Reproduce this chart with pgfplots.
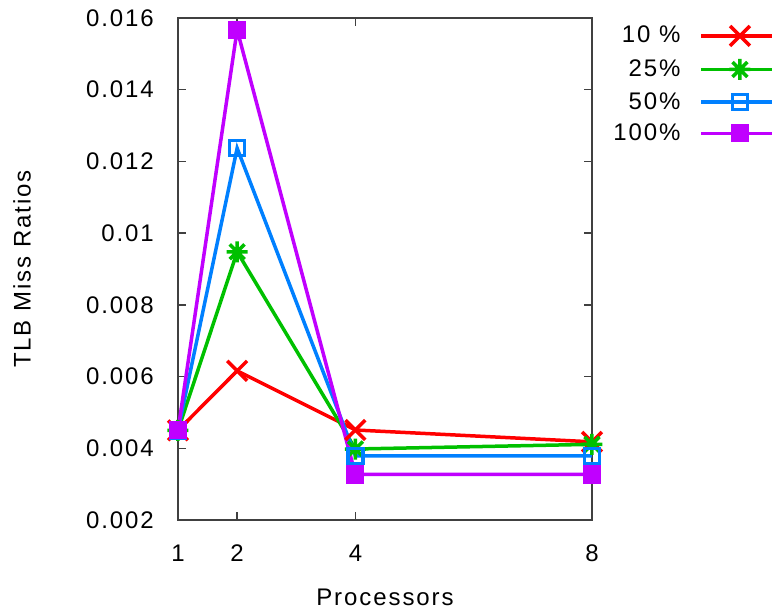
\documentclass[border=0pt]{standalone}
\usepackage{fontspec}
\setmainfont{Liberation Sans}[LetterSpace=8]
\usepackage{pgfplots}
\pgfplotsset{compat=1.18}
\definecolor{gpred}{RGB}{255,0,0}
\definecolor{gpgreen}{RGB}{0,192,0}
\definecolor{gpblue}{RGB}{0,128,255}
\definecolor{gppurple}{RGB}{192,0,255}
\pgfdeclareplotmark{gpstar}{%
  \pgfpathmoveto{\pgfqpoint{-\pgfplotmarksize}{0pt}}%
  \pgfpathlineto{\pgfqpoint{\pgfplotmarksize}{0pt}}%
  \pgfpathmoveto{\pgfqpoint{0pt}{-\pgfplotmarksize}}%
  \pgfpathlineto{\pgfqpoint{0pt}{\pgfplotmarksize}}%
  \pgfpathmoveto{\pgfqpoint{-.7071\pgfplotmarksize}{-.7071\pgfplotmarksize}}%
  \pgfpathlineto{\pgfqpoint{.7071\pgfplotmarksize}{.7071\pgfplotmarksize}}%
  \pgfpathmoveto{\pgfqpoint{-.7071\pgfplotmarksize}{.7071\pgfplotmarksize}}%
  \pgfpathlineto{\pgfqpoint{.7071\pgfplotmarksize}{-.7071\pgfplotmarksize}}%
  \pgfusepathqstroke}
\begin{document}
\fontsize{24}{28}\selectfont
\begin{tikzpicture}[font=\fontsize{24}{28}\selectfont]
\path[use as bounding box] (0pt,0pt) rectangle (774pt,611pt);
\begin{axis}[
  at={(178pt,91pt)}, anchor=south west,
  scale only axis, width=414pt, height=502pt,
  xmin=1, xmax=8, ymin=0.002, ymax=0.016,
  xtick={1,2,4,8},
  ytick={0.002,0.004,0.006,0.008,0.01,0.012,0.014,0.016},
  scaled y ticks=false,
  yticklabel style={/pgf/number format/fixed,/pgf/number format/precision=3,
    anchor=east, inner sep=0pt, xshift=-24pt},
  xticklabel style={anchor=center, inner sep=0pt, yshift=-33pt},
  /pgf/number format/assume math mode=true,
  tick align=inside, major tick length=8pt,
  axis line style={draw=black!75, line width=1.5pt},
  every tick/.style={black!75, line width=1.5pt},
  xlabel={Processors}, ylabel={TLB Miss Ratios},
  every axis x label/.style={at={(axis description cs:0.5,-0.1534)}, anchor=center, inner sep=0pt},
  every axis y label/.style={at={(axis description cs:-0.3768,0.5)}, rotate=90, anchor=center, inner sep=0pt},
  clip=false,
  legend plot pos=right,
  legend cell align=right,
  legend image code/.code={\draw[mark repeat=2,mark phase=2,#1] plot coordinates {(0pt,0pt) (38.7pt,0pt) (71pt,0pt)};},
  legend style={at={(axis description cs:1,1)}, anchor=north east, xshift=182pt, yshift=-8pt,
    draw=none, fill=none, inner sep=0pt, outer sep=0pt, column sep=19pt, row sep=13.2pt,
    nodes={inner sep=0pt, text height=16pt, text depth=2pt}},
  every axis plot/.append style={line width=3.5pt},
]
\addplot[gpred, mark=x, mark size=14pt] coordinates {(1,0.0045) (2,0.00616) (4,0.00451) (8,0.00418)};
\addlegendentry{10 \%}
\addplot[gpgreen, mark=gpstar, mark size=10.5pt] coordinates {(1,0.0045) (2,0.00948) (4,0.00398) (8,0.00411)};
\addlegendentry{25\%}
\addplot[gpblue, mark=square, mark size=7.5pt] coordinates {(1,0.0045) (2,0.01237) (4,0.00379) (8,0.00379)};
\addlegendentry{50\%}
\addplot[gppurple, mark=square*, mark size=7.3pt] coordinates {(1,0.0045) (2,0.01567) (4,0.00327) (8,0.00327)};
\addlegendentry{100\%}
\end{axis}
\end{tikzpicture}
\end{document}
